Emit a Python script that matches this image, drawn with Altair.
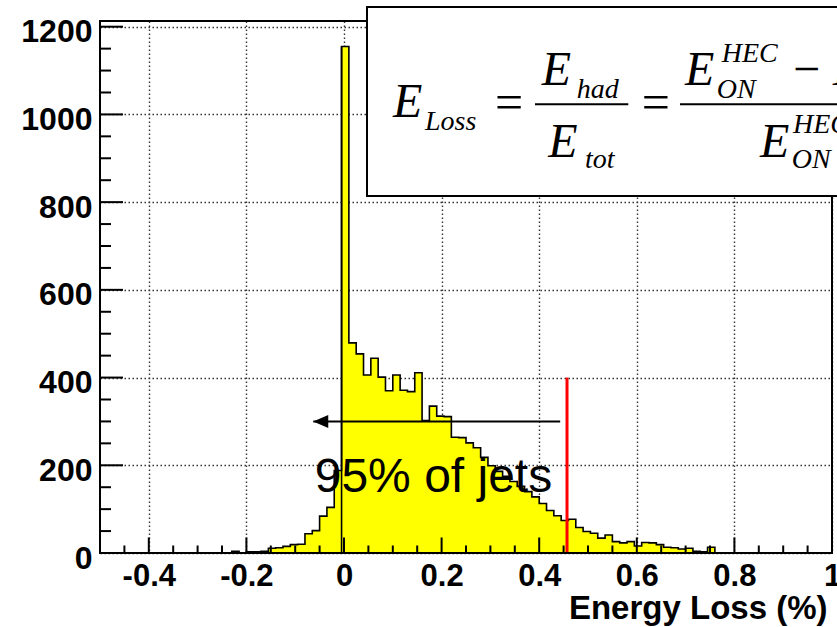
import altair as alt
import pandas as pd

# ---------------- data ----------------
LO, HI, NBINS = -0.5, 1.0, 100
counts = ([0] * 18 +
          [4, 0, 3, 3, 4, 11, 12, 15, 19, 20, 44, 51, 84, 104, 188, 1155,
           479, 454, 406, 444, 401, 370, 406, 371, 368, 411, 302, 335, 312, 311, 264, 263,
           251, 240, 218, 199, 186, 175, 163, 152, 140, 128, 113, 97, 85, 74, 77, 58,
           49, 45, 34, 41, 26, 23, 26, 16, 24, 23, 19, 13, 12, 9, 11, 4, 3, 13] +
          [0] * 16)
assert len(counts) == NBINS

x_major = [-0.4, -0.2, 0.0, 0.2, 0.4, 0.6, 0.8, 1.0]
x_minor = [-0.45, -0.35, -0.3, -0.25, -0.15, -0.1, -0.05, 0.05, 0.1, 0.15,
           0.25, 0.3, 0.35, 0.45, 0.5, 0.55, 0.65, 0.7, 0.75, 0.85, 0.9, 0.95]
y_major = [0, 200, 400, 600, 800, 1000, 1200]
y_minor = [50, 100, 150, 250, 300, 350, 450, 500, 550, 650, 700, 750,
           850, 900, 950, 1050, 1100, 1150]
Y_MAX = 1213

cut_x = [0.457]          # 95% cut position
cut_top = [400]
arrow_x = [0.443, -0.063]  # arrow from right end to tip
arrow_y = [300, 300]
label_text = ["95% of jets"]
label_x = [-0.06]
label_y = [140]

# ---------------- derived tables ----------------
W = (HI - LO) / NBINS
edges = [LO + i * W for i in range(NBINS + 1)]
hist = pd.DataFrame({"x": edges, "y": counts + [counts[-1]]})
imax = max(range(NBINS), key=lambda i: counts[i])
spike = pd.DataFrame({"x": [edges[imax]], "y": [0], "y2": [counts[imax]]})

PLOT_W, PLOT_H = 732, 532
FONT = "Liberation Sans"
SERIF = "Liberation Serif"

xscale = alt.Scale(domain=[LO, HI], nice=False, zero=False)
yscale = alt.Scale(domain=[0, Y_MAX], nice=False, zero=False)

xaxis = alt.Axis(
    values=x_major, grid=True, ticks=False, domain=False,
    gridColor="#333333", gridDash=[1.5, 2.5], gridWidth=1.4,
    labelFont=FONT, labelFontWeight="bold", labelFontSize=31, labelColor="black",
    labelPadding=8, labelFlush=False, labelOverlap=False,
    labelExpr="datum.value == 0 ? '0' : (abs(datum.value - 1) < 1e-9 ? '1' : (datum.value < 0 ? '-' : '') + format(abs(datum.value), '.1f'))",
    title="Energy Loss (%)", titleFont=FONT, titleFontWeight="bold", titleFontSize=33,
    titleColor="black", titleAnchor="end", titleAlign="right", titleBaseline="alphabetic",
    titleX=727, titleY=65,
)
yaxis = alt.Axis(
    values=y_major, grid=True, ticks=False, domain=False, format="d",
    gridColor="#333333", gridDash=[1.5, 2.5], gridWidth=1.4,
    labelFont=FONT, labelFontWeight="bold", labelFontSize=32, labelColor="black",
    labelPadding=8, labelOffset=5, labelFlush=False, labelOverlap=False,
    title=None,
)


def X(field):
    return alt.X(field, type="quantitative", scale=xscale, axis=xaxis)


def Y(field):
    return alt.Y(field, type="quantitative", scale=yscale, axis=yaxis)


area = alt.Chart(hist).mark_area(interpolate="step-after", color="#ffff00", opacity=1).encode(
    x=X("x"), y=Y("y"))
outline = alt.Chart(hist).mark_line(interpolate="step-after", color="black", strokeWidth=1.6).encode(
    x=X("x"), y=Y("y"))
spike_edge = alt.Chart(spike).mark_rule(color="black", strokeWidth=1.6).encode(
    x=X("x"), y=Y("y"), y2="y2")

cut = alt.Chart(pd.DataFrame({"x": cut_x, "y": [0], "y2": cut_top})).mark_rule(
    color="#ff0000", strokeWidth=3).encode(x=X("x"), y=Y("y"), y2="y2")

frame = alt.Chart().mark_rect(fill=None, stroke="black", strokeWidth=2).encode(
    x=alt.value(0), x2=alt.value("width"), y=alt.value(0), y2=alt.value("height"))

ymaj = alt.Chart(pd.DataFrame({"v": y_major})).mark_rule(color="black", strokeWidth=2).encode(
    y=Y("v"), x=alt.value(0), x2=alt.value(23))
ymin = alt.Chart(pd.DataFrame({"v": y_minor})).mark_rule(color="black", strokeWidth=2).encode(
    y=Y("v"), x=alt.value(0), x2=alt.value(11))
xmaj = alt.Chart(pd.DataFrame({"v": x_major[:-1]})).mark_rule(color="black", strokeWidth=2).encode(
    x=X("v"), y=alt.value(PLOT_H), y2=alt.value(PLOT_H - 15.5))
xmin = alt.Chart(pd.DataFrame({"v": x_minor})).mark_rule(color="black", strokeWidth=2).encode(
    x=X("v"), y=alt.value(PLOT_H), y2=alt.value(PLOT_H - 7.5))

arrow_df = pd.DataFrame({"x": arrow_x, "y": arrow_y})
arrow_line = alt.Chart(arrow_df).mark_line(color="black", strokeWidth=2).encode(
    x=X("x"), y=Y("y"))
arrow_head = alt.Chart(arrow_df.iloc[[1]]).mark_point(
    shape="M0,0L2,-0.87L2,0.87Z", filled=True, color="black", opacity=1, size=225,
    strokeWidth=0).encode(x=X("x"), y=Y("y"))

label = alt.Chart(pd.DataFrame({"x": label_x, "y": label_y, "t": label_text})).mark_text(
    align="left", baseline="alphabetic", font=FONT, fontSize=48, color="black").encode(
    x=X("x"), y=Y("y"), text="t:N")

# formula box (annotation, pixel layout relative to plot area)
box = alt.Chart().mark_rect(fill="white", stroke="black", strokeWidth=2).encode(
    x=alt.value(267), x2=alt.value(760), y=alt.value(-14), y2=alt.value(175))


def ftext(t, px, py, size, italic=True):
    return alt.Chart().mark_text(
        align="left", baseline="alphabetic", font=SERIF, fontSize=size,
        fontStyle="italic" if italic else "normal", color="black").encode(
        x=alt.value(px), y=alt.value(py), text=alt.value(t))


def fbar(x0, x1, py):
    return alt.Chart().mark_rule(color="black", strokeWidth=2).encode(
        x=alt.value(x0), x2=alt.value(x1), y=alt.value(py))


formula = [
    ftext("E", 293, 95.7, 48), ftext("Loss", 325, 109, 28),
    ftext("=", 395, 98, 50, italic=False),
    ftext("E", 441.7, 64, 48), ftext("had", 476.7, 77.3, 28),
    fbar(435, 528.3, 83.3),
    ftext("E", 448.3, 135.7, 48), ftext("tot", 485, 147.3, 28),
    ftext("=", 541.7, 98, 50, italic=False),
    ftext("E", 585, 64, 48), ftext("HEC", 621.7, 40.7, 28), ftext("ON", 616.7, 77.3, 28),
    ftext("\u2212", 693, 64, 48, italic=False),
    ftext("E", 733, 64, 48),
    fbar(580, 760, 83.3),
    ftext("E", 660, 135.7, 48), ftext("HEC", 693, 112, 28), ftext("ON", 691.7, 147.3, 28),
]

chart = alt.layer(
    area, outline, spike_edge, cut, frame, ymaj, ymin, xmaj, xmin,
    arrow_line, arrow_head, label, box, *formula
).properties(
    width=PLOT_W, height=PLOT_H,
    autosize=alt.AutoSizeParams(type="none"),
    padding={"left": 100, "top": 21, "right": 5, "bottom": 74},
    background="white",
).configure_view(stroke=None)

chart.save("out.html", embed_options={"renderer": "svg", "actions": False})
